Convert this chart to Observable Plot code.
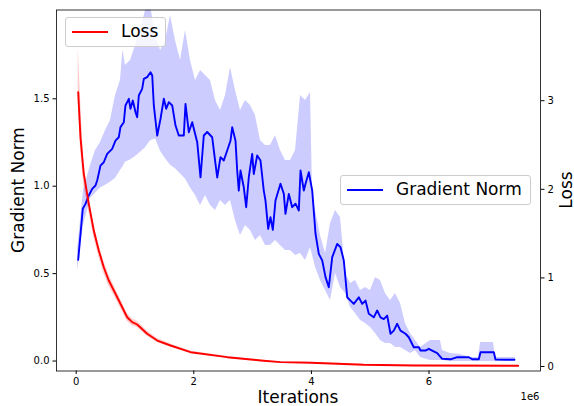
<!DOCTYPE html>
<html>
<head>
<meta charset="utf-8">
<script src="https://cdn.jsdelivr.net/npm/d3@7"></script>
<script src="https://cdn.jsdelivr.net/npm/@observablehq/plot@0.6"></script>
<style>
  body { margin: 0; background: #fff; font-family: "DejaVu Sans", sans-serif; }
  #wrap { position: relative; width: 574px; height: 406px; overflow: hidden; }
  #wrap svg { position: absolute; left: 0; top: 0; }
  .lab { position: absolute; font-size: 17px; color: #000; white-space: nowrap; line-height: 1; }
  .rot { transform: translate(-50%, -50%) rotate(-90deg); }
  .ctr { transform: translate(-50%, -50%); }
  .legend { position: absolute; border: 1px solid #cccccc; border-radius: 3px;
            background: rgba(255,255,255,0.8); box-sizing: border-box; }
  .legend .swatch { position: absolute; height: 2px; }
  .legend .txt { position: absolute; font-size: 17px; line-height: 1; color: #000; white-space: nowrap; }
</style>
</head>
<body>
<div id="wrap"></div>
<script>
// Iterations are in millions (the axis carries the 1e6 offset label).

// Gradient norm, smoothed trace
const gradIter = [0.034,0.112,0.158,0.214,0.272,0.328,0.357,0.413,0.469,0.527,0.612,0.668,0.724,0.753,0.810,0.838,0.895,0.923,0.963,1.009,1.037,1.065,1.122,1.150,1.207,1.264,1.293,1.320,1.378,1.434,1.490,1.531,1.575,1.633,1.689,1.745,1.830,1.859,1.915,1.973,2.058,2.114,2.170,2.228,2.313,2.369,2.398,2.454,2.510,2.568,2.624,2.653,2.709,2.738,2.765,2.794,2.850,2.891,2.935,2.993,3.020,3.078,3.134,3.190,3.219,3.265,3.304,3.344,3.389,3.474,3.531,3.559,3.616,3.673,3.730,3.786,3.815,3.871,3.900,3.956,4.014,4.070,4.126,4.184,4.240,4.296,4.354,4.439,4.495,4.551,4.609,4.665,4.721,4.806,4.864,4.920,4.976,5.061,5.119,5.175,5.231,5.289,5.345,5.401,5.459,5.515,5.600,5.656,5.741,5.827,5.855,5.940,5.997,6.054,6.139,6.224,6.366,6.480,6.677,6.735,6.847,6.876,7.102,7.131,7.301,7.454];
const gradNorm = [0.579,0.871,0.899,0.947,0.985,1.004,1.033,1.118,1.137,1.185,1.214,1.261,1.280,1.338,1.366,1.462,1.500,1.443,1.490,1.423,1.395,1.519,1.557,1.614,1.624,1.652,1.633,1.462,1.290,1.386,1.500,1.443,1.481,1.462,1.347,1.290,1.290,1.471,1.309,1.366,1.252,1.051,1.290,1.31,1.28,1.128,1.05,1.166,1.147,1.204,1.26,1.337,1.26,1.09,0.975,1.09,0.994,0.88,1.05,1.185,1.07,1.176,1.147,0.975,0.918,0.756,0.823,0.75,0.918,1.014,0.956,0.842,0.956,0.88,0.90,0.861,1.09,0.975,1.014,1.08,0.975,0.728,0.613,0.575,0.48,0.422,0.594,0.67,0.651,0.575,0.365,0.346,0.327,0.365,0.327,0.346,0.27,0.25,0.289,0.25,0.24,0.26,0.156,0.174,0.213,0.174,0.156,0.136,0.079,0.079,0.06,0.06,0.07,0.06,0.045,0.013,0.01,0.022,0.022,0.01,0.01,0.05,0.05,0.009,0.007,0.007];

// Gradient norm spread (shaded band)
const bandIter = [0.022,0.124,0.243,0.328,0.413,0.498,0.583,0.668,0.753,0.794,0.838,0.923,1.009,1.094,1.179,1.264,1.349,1.434,1.519,1.604,1.689,1.774,1.859,1.944,2.029,2.114,2.199,2.284,2.369,2.454,2.539,2.624,2.709,2.794,2.879,2.964,3.049,3.134,3.219,3.304,3.389,3.474,3.559,3.644,3.730,3.815,3.900,3.985,4.019,4.070,4.155,4.240,4.325,4.410,4.495,4.580,4.665,4.750,4.835,4.920,5.005,5.090,5.175,5.260,5.345,5.430,5.515,5.600,5.685,5.770,5.855,6.025,6.195,6.229,6.366,6.536,6.706,6.842,6.876,7.097,7.131,7.301,7.471];
const bandHigh = [0.632,0.975,1.118,1.204,1.250,1.319,1.376,1.519,1.605,1.780,1.691,1.719,1.805,1.891,2.005,2.034,1.862,1.777,1.834,1.977,1.834,1.719,1.891,1.719,1.605,1.662,1.633,1.605,1.490,1.433,1.519,1.679,1.548,1.433,1.490,1.462,1.404,1.261,1.233,1.233,1.290,1.204,1.147,1.147,1.204,1.519,1.490,1.536,0.958,0.861,0.718,0.615,0.787,0.861,0.821,0.501,0.443,0.460,0.403,0.420,0.403,0.478,0.460,0.386,0.346,0.386,0.329,0.215,0.157,0.117,0.077,0.117,0.117,0.060,0.043,0.037,0.020,0.020,0.106,0.106,0.020,0.020,0.020];
const bandLow = [0.518,0.775,0.930,0.960,0.990,1.005,1.023,1.044,1.090,1.110,1.137,1.150,1.170,1.194,1.220,1.260,1.271,1.200,1.157,1.120,1.100,1.070,1.042,0.990,0.947,0.890,0.947,0.890,0.861,0.918,0.890,0.918,0.803,0.718,0.775,0.746,0.689,0.718,0.661,0.661,0.689,0.661,0.632,0.632,0.604,0.615,0.575,0.649,0.604,0.535,0.460,0.403,0.346,0.501,0.420,0.386,0.306,0.272,0.232,0.215,0.192,0.157,0.117,0.100,0.100,0.077,0.077,0.060,0.043,0.060,0.020,0.003,0.003,0.003,-0.003,-0.003,-0.003,-0.003,-0.003,-0.003,-0.003,0.003,0.003];

// Loss mean and its spread
const lossIter = [0.034,0.073,0.129,0.214,0.299,0.384,0.469,0.554,0.668,0.753,0.867,0.952,1.037,1.207,1.378,1.604,1.944,2.568,3.134,3.474,3.985,4.886,5.736,7.517];
const lossMean = [3.096,2.588,2.175,1.836,1.535,1.309,1.120,0.971,0.821,0.708,0.556,0.500,0.474,0.369,0.293,0.237,0.161,0.105,0.068,0.049,0.042,0.019,0.011,0.008];
const lossHigh = [3.60,3.05,2.30,1.92,1.61,1.38,1.19,1.04,0.88,0.76,0.60,0.54,0.51,0.40,0.32,0.255,0.175,0.112,0.073,0.054,0.047,0.024,0.016,0.013];
const lossLow  = [3.00,2.45,2.05,1.75,1.46,1.24,1.05,0.91,0.77,0.66,0.51,0.46,0.44,0.34,0.27,0.22,0.15,0.098,0.063,0.044,0.037,0.014,0.006,0.003];

// Tick values
const xTicks = [0, 2, 4, 6];
const gradTicks = [0.0, 0.5, 1.0, 1.5];
const lossTicks = [0, 1, 2, 3];

const grad = gradIter.map((x, i) => ({x, y: gradNorm[i]}));
const band = bandIter.map((x, i) => ({x, lo: bandLow[i], hi: bandHigh[i]}));
const loss = lossIter.map((x, i) => ({x, y: lossMean[i], lo: lossLow[i], hi: lossHigh[i]}));

const W = 574, H = 406;
const frame = {width: W, height: H, marginLeft: 56, marginRight: 34, marginTop: 9.5, marginBottom: 35.5};
const xDomain = [-0.335, 7.896];
const baseStyle = {fontFamily: "DejaVu Sans, sans-serif", fontSize: "10px", color: "#000", overflow: "visible"};

// Left axes: gradient norm, plus the shared x axis
const gradPlot = Plot.plot({
  ...frame,
  style: {...baseStyle, background: "white"},
  x: {domain: xDomain, ticks: xTicks, tickSize: 3.5, tickPadding: 3.5, tickFormat: d => String(d), label: null},
  y: {domain: [-0.057, 2.008], ticks: gradTicks, tickSize: 3.5, tickPadding: 3.5, tickFormat: d => d.toFixed(1), label: null},
  marks: [
    Plot.areaY(band, {x: "x", y1: "lo", y2: "hi", fill: "blue", fillOpacity: 0.2, clip: true}),
    Plot.lineY(grad, {x: "x", y: "y", stroke: "blue", strokeWidth: 1.9, clip: true}),
    Plot.frame({stroke: "black", strokeWidth: 0.8})
  ]
});

// Right axes: loss, drawn on top
const lossPlot = Plot.plot({
  ...frame,
  style: {...baseStyle, background: "transparent"},
  x: {domain: xDomain, axis: null},
  y: {domain: [-0.051, 4.024], axis: "right", ticks: lossTicks, tickSize: 3.5, tickPadding: 3.5, tickFormat: d => String(d), label: null},
  marks: [
    Plot.areaY(loss, {x: "x", y1: "lo", y2: "hi", fill: "red", fillOpacity: 0.2, clip: true}),
    Plot.lineY(loss, {x: "x", y: "y", stroke: "red", strokeWidth: 1.9, clip: true})
  ]
});

const wrap = document.getElementById("wrap");
wrap.appendChild(gradPlot);
wrap.appendChild(lossPlot);

function addLabel(text, x, y, cls) {
  const d = document.createElement("div");
  d.className = "lab " + cls;
  d.style.left = x + "px";
  d.style.top = y + "px";
  d.textContent = text;
  wrap.appendChild(d);
  return d;
}
addLabel("Gradient Norm", 18, 190, "rot");
addLabel("Loss", 566, 190, "rot");
addLabel("Iterations", 298, 397, "ctr");
const off = addLabel("1e6", 530, 397, "ctr");
off.style.fontSize = "10px";

function addLegend(text, color, left, top, width) {
  const box = document.createElement("div");
  box.className = "legend";
  box.style.left = left + "px";
  box.style.top = top + "px";
  box.style.width = width + "px";
  box.style.height = "30px";
  const sw = document.createElement("div");
  sw.className = "swatch";
  sw.style.background = color;
  sw.style.left = "6px";
  sw.style.width = "36px";
  sw.style.top = "12.5px";
  const t = document.createElement("div");
  t.className = "txt";
  t.style.left = "55px";
  t.style.top = "5px";
  t.textContent = text;
  box.appendChild(sw);
  box.appendChild(t);
  wrap.appendChild(box);
}
addLegend("Loss", "red", 65, 17, 101);
addLegend("Gradient Norm", "blue", 340, 175, 191);
</script>
</body>
</html>
